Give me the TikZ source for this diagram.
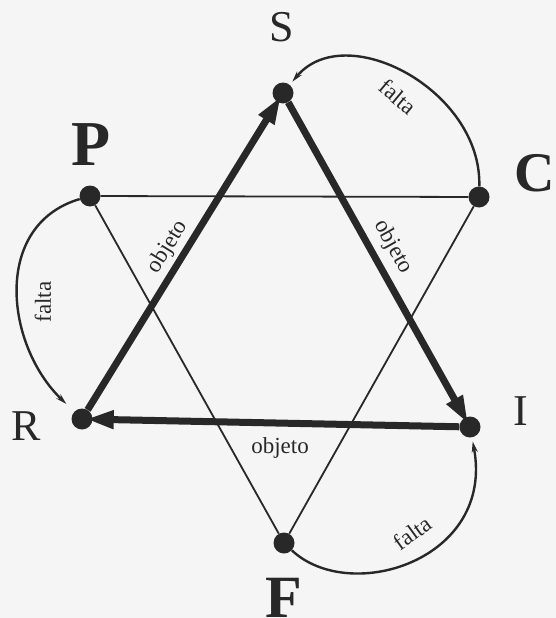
\documentclass[tikz,border=0pt]{standalone}
\usepackage{fontspec}
\setmainfont{Liberation Serif}
\usetikzlibrary{arrows.meta}
\definecolor{ink}{RGB}{40,40,40}
\definecolor{paper}{RGB}{245,245,245}
\begin{document}
\begin{tikzpicture}[x=1pt,y=-1pt,
  dot/.style={circle,fill=ink,minimum size=21pt,inner sep=0pt},
  thinline/.style={draw=ink,line width=1.8pt},
  thickarrow/.style={draw=ink,line width=7pt,-{Triangle[length=28pt,width=17pt]},shorten >=-7pt},
  curvearrow/.style={draw=ink,line width=2.4pt,-{Stealth[length=11pt,width=6pt]}},
  rel/.style={font=\fontsize{23}{23}\selectfont,text=ink,inner sep=1pt},
  vlab/.style={font=\fontsize{44}{44}\selectfont,text=ink,anchor=base,inner sep=0pt},
  blab/.style={font=\bfseries\fontsize{64}{64}\selectfont,text=ink,anchor=base,inner sep=0pt}]
\fill[paper] (0,0) rectangle (556,618);
\useasboundingbox (0,0) rectangle (556,618);

% vertices
\node[dot] (S) at (283,93) {};
\node[dot] (P) at (90,196) {};
\node[dot] (C) at (479,197) {};
\node[dot] (R) at (82,419) {};
\node[dot] (I) at (470,427) {};
\node[dot] (F) at (284,543) {};

% vertex labels
\node[vlab] (lS) at (282,42) {S};
\node[vlab] (lR) at (26,440) {R};
\node[vlab] (lI) at (521,425) {I};
\node[blab] (lP) at (91,165) {P};
\node[blab,font=\bfseries\fontsize{56}{56}\selectfont] (lC) at (535,191) {C};
\node[blab,font=\bfseries\fontsize{60}{60}\selectfont] (lF) at (284,617) {F};

% thin triangle
\draw[thinline] (P) -- (C);
\draw[thinline] (P) -- (F);
\draw[thinline] (C) -- (F);

% thick triangle
\draw[thickarrow] (R) -- (S);
\draw[thickarrow] (S) -- (I);
\draw[thickarrow] (I) -- (R);

% curved arrows
\draw[curvearrow,shorten >=4pt] (C) .. controls (482,90) and (345,18) .. (S);
\draw[curvearrow,shorten >=11pt] (P) .. controls (-8,225) and (5,345) .. (R);
\draw[curvearrow,shorten >=4pt] (F) .. controls (350,605) and (495,560) .. (I);

% relation labels
\node[rel,rotate=58.5] (o1) at (168,247) {objeto};
\node[rel,rotate=-60.7] (o2) at (393,247) {objeto};
\node[rel] (o3) at (280,448) {objeto};
\node[rel,rotate=-40] (f1) at (398,97) {falta};
\node[rel,rotate=90] (f2) at (43,302) {falta};
\node[rel,rotate=36] (f3) at (412,533) {falta};
\end{tikzpicture}
\end{document}
